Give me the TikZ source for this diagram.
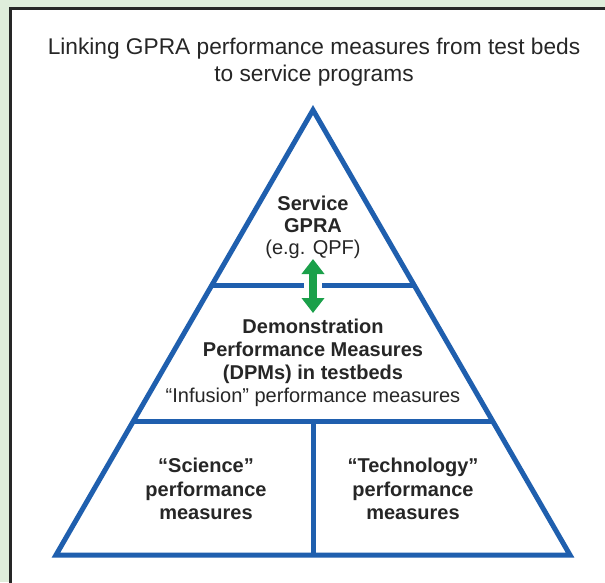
\documentclass[tikz,border=0pt]{standalone}
\usepackage{fontspec}
\setmainfont{Liberation Sans}
\usetikzlibrary{arrows.meta,calc}
\definecolor{pyrblue}{HTML}{1F5FAE}
\definecolor{pyrgreen}{HTML}{1BA04A}
\definecolor{bggreen}{HTML}{DFEDDB}
\definecolor{inktext}{HTML}{262626}
\tikzset{
	tier/.style={line width=5pt, draw=pyrblue},
	tiertext/.style={align=center, inner sep=0pt, text=inktext, font=\fontsize{20}{23}\selectfont},
	updown/.style={{Triangle[width=22pt,length=15pt]}-{Triangle[width=22pt,length=15pt]}, line width=8pt, draw=pyrgreen, fill=pyrgreen}
}
\begin{document}
\begin{tikzpicture}[x=1pt,y=-1pt]
	\useasboundingbox (0,0) rectangle (605,582);
	\fill[bggreen] (0,0) rectangle (605,582);
	\draw[line width=3pt, draw=inktext, fill=white] (615,8.5) -- (10.5,8.5) -- (10.5,592) -- (615,592);
	\node[tiertext, font=\fontsize{22.7}{27}\selectfont] (title) at (314,62.6) {Linking GPRA performance measures from test beds\\to service programs};
	% pyramid
	\coordinate (apex) at (313,110);
	\coordinate (bl) at (56,555);
	\coordinate (br) at (570,555);
	\draw[tier, line join=miter] (apex) -- (bl) -- (br) -- cycle;
	\draw[tier] ($(apex)!0.3933!(bl)$) -- ($(apex)!0.3933!(br)$);
	\draw[tier] ($(apex)!0.701!(bl)$) -- ($(apex)!0.701!(br)$);
	\draw[tier] ($(bl)!0.5!(br)$) -- (313,422);
	\node[tiertext, font=\fontsize{20}{22}\selectfont] (service) at (313,227) {\textbf{Service}\\\textbf{GPRA}\\(e.g. QPF)};
	\node[tiertext] (dpm) at (313,362.5) {\textbf{Demonstration}\\\textbf{Performance Measures}\\\textbf{(DPMs) in testbeds}\\“Infusion” performance measures};
	\node[tiertext, font=\bfseries\fontsize{20}{23.5}\selectfont] (science) at (206,489) {“Science”\\performance\\measures};
	\node[tiertext, font=\bfseries\fontsize{20}{23.5}\selectfont] (techno) at (413,489) {“Technology”\\performance\\measures};
	% link arrow
	\fill[white] (304,279) rectangle (322,291);
	\coordinate (uptip) at (313,259);
	\coordinate (downtip) at (313,313);
	\draw[updown] (uptip) -- (downtip);
\end{tikzpicture}
\end{document}
